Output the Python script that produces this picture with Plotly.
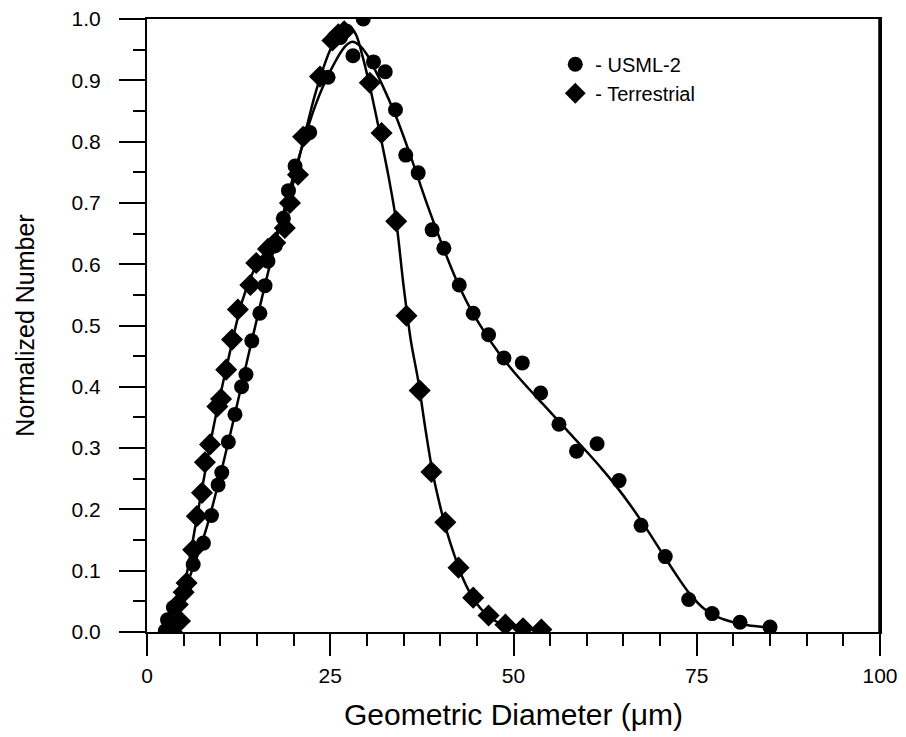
import plotly.graph_objects as go

# ---- data ----
usml_x = [2.5, 2.8, 3.6, 5.4, 6.3, 7.7, 8.8, 9.7, 10.2, 11.1, 12.0, 12.9, 13.5, 14.3, 15.4,
          16.1, 16.5, 17.5, 18.6, 19.3, 20.2, 22.2, 24.7, 26.4, 28.1, 29.5, 30.9, 32.5, 33.9,
          35.3, 37.0, 38.9, 40.5, 42.6, 44.5, 46.6, 48.7, 51.2, 53.7, 56.2, 58.6, 61.4, 64.4,
          67.4, 70.7, 73.9, 77.1, 80.9, 85.0]
usml_y = [0.002, 0.02, 0.04, 0.08, 0.11, 0.145, 0.19, 0.24, 0.26, 0.31, 0.355, 0.40, 0.42, 0.475,
          0.52, 0.565, 0.605, 0.63, 0.675, 0.72, 0.76, 0.815, 0.905, 0.97, 0.94, 1.0, 0.93, 0.914,
          0.852, 0.778, 0.749, 0.656, 0.626, 0.566, 0.52, 0.485, 0.447, 0.439, 0.39, 0.339, 0.295,
          0.307, 0.247, 0.174, 0.123, 0.053, 0.03, 0.016, 0.008]

terr_x = [3.4, 4.5, 4.2, 5.0, 5.4, 6.3, 6.8, 7.5, 7.9, 8.6, 9.6, 10.1, 10.8, 11.6, 12.4, 14.1,
          14.9, 16.5, 17.5, 18.8, 19.5, 20.6, 21.3, 23.6, 25.3, 26.1, 26.9, 30.4, 32.0, 34.0,
          35.4, 37.2, 38.8, 40.7, 42.5, 44.5, 46.6, 48.9, 51.3, 53.8]
terr_y = [0.0, 0.018, 0.045, 0.065, 0.08, 0.134, 0.189, 0.227, 0.277, 0.306, 0.368, 0.38,
          0.428, 0.477, 0.526, 0.566, 0.602, 0.625, 0.635, 0.659, 0.70, 0.746, 0.808, 0.906,
          0.965, 0.975, 0.98, 0.896, 0.814, 0.670, 0.516, 0.394, 0.261, 0.179, 0.105, 0.056,
          0.027, 0.012, 0.006, 0.004]

# fitted curves
usml_fit_x = [2.5, 5, 8, 11, 14, 17, 20, 23, 25, 27, 28, 29, 30, 32, 34, 36, 38, 40, 42, 44,
              46, 48, 50, 52, 54, 56, 58, 60, 62, 64, 66, 68, 70, 72, 74, 76, 78, 80, 82, 85]
usml_fit_y = [0.0, 0.065, 0.165, 0.305, 0.46, 0.61, 0.745, 0.86, 0.915, 0.955, 0.963, 0.957,
              0.942, 0.895, 0.84, 0.775, 0.705, 0.64, 0.58, 0.53, 0.49, 0.455, 0.425, 0.398,
              0.372, 0.346, 0.32, 0.294, 0.267, 0.238, 0.206, 0.171, 0.134, 0.097, 0.063,
              0.038, 0.024, 0.016, 0.011, 0.007]

terr_fit_x = [3.3, 5, 7, 9, 11, 13, 15, 17, 19, 21, 23, 25, 26.5, 27.5, 28.5, 29.5, 30.5, 32,
              33, 34, 35, 36, 37, 38, 39, 40, 41, 42, 43, 44, 45, 46, 47, 48, 50, 52, 54]
terr_fit_y = [0.0, 0.07, 0.20, 0.33, 0.44, 0.54, 0.60, 0.635, 0.69, 0.785, 0.88, 0.95, 0.982,
              0.99, 0.975, 0.935, 0.885, 0.80, 0.74, 0.67, 0.565, 0.475, 0.41, 0.33, 0.258,
              0.205, 0.16, 0.123, 0.09, 0.065, 0.046, 0.032, 0.022, 0.015, 0.008, 0.004, 0.002]

series_names = ["- USML-2", "- Terrestrial"]

FONT = "Liberation Sans, Arial, sans-serif"

fig = go.Figure()
fig.add_trace(go.Scatter(x=usml_fit_x, y=usml_fit_y, mode="lines",
                         line=dict(color="black", width=2.5, shape="spline", smoothing=0.9),
                         showlegend=False, hoverinfo="skip"))
fig.add_trace(go.Scatter(x=terr_fit_x, y=terr_fit_y, mode="lines",
                         line=dict(color="black", width=2.5, shape="spline", smoothing=0.8),
                         showlegend=False, hoverinfo="skip"))
fig.add_trace(go.Scatter(x=usml_x, y=usml_y, mode="markers", name=series_names[0],
                         marker=dict(symbol="circle", size=15, color="black")))
fig.add_trace(go.Scatter(x=terr_x, y=terr_y, mode="markers", name=series_names[1],
                         marker=dict(symbol="diamond", size=17, color="black")))

fig.update_layout(
    width=906, height=737,
    margin=dict(l=147, r=26, t=19, b=105),
    paper_bgcolor="white", plot_bgcolor="white",
    font=dict(family=FONT, color="black"),
    showlegend=True,
    legend=dict(x=0.557, y=0.958, xanchor="left", yanchor="top",
                font=dict(size=20, family=FONT, color="black"),
                bgcolor="rgba(0,0,0,0)", tracegroupgap=0, itemsizing="trace",
                itemwidth=30),
    shapes=[dict(type="line", xref="paper", yref="paper", x0=1, x1=1, y0=0, y1=1,
                 line=dict(color="black", width=3.5))],
)
fig.update_xaxes(
    automargin=False,
    range=[0, 100], tickmode="array", tickvals=[0, 25, 50, 75, 100],
    ticks="outside", ticklen=22, tickwidth=2, tickcolor="black",
    minor=dict(dtick=5, ticks="outside", ticklen=12, tickwidth=2, tickcolor="black"),
    showline=True, linewidth=2, linecolor="black", mirror=True,
    showgrid=False, zeroline=False,
    tickfont=dict(size=21, family=FONT, color="black"), ticklabelstandoff=2,
    title=dict(text="Geometric Diameter (μm)", font=dict(size=30, family=FONT, color="black"), standoff=18),
)
fig.update_yaxes(
    automargin=False,
    range=[0, 1.0], tickmode="linear", tick0=0, dtick=0.1, tickformat=".1f",
    ticks="outside", ticklen=26, tickwidth=2, tickcolor="black",
    minor=dict(dtick=0.05, ticks="outside", ticklen=12, tickwidth=2, tickcolor="black"),
    showline=True, linewidth=2, linecolor="black", mirror=True,
    showgrid=False, zeroline=False,
    tickfont=dict(size=21, family=FONT, color="black"), ticklabelstandoff=14,
    title=dict(text="Normalized Number", font=dict(size=25, family=FONT, color="black"), standoff=30),
)

fig.write_html("out.html")
